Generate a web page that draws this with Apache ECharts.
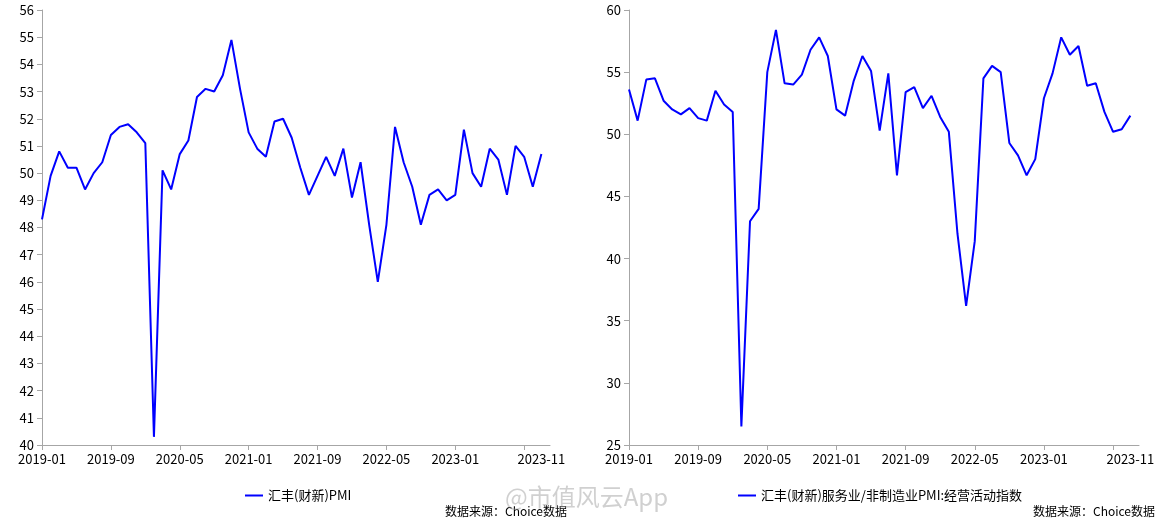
<!DOCTYPE html>
<html><head><meta charset="utf-8">
<script src="https://cdn.jsdelivr.net/npm/echarts@6/dist/echarts.min.js"></script>
<style>html,body{margin:0;background:#fff}#c{width:1175px;height:532px}</style>
</head><body><div id="c"></div>
<script>
const months = [];
for (let y = 2019; y <= 2023; y++) for (let m = 1; m <= 12; m++) { if (y === 2023 && m === 12) break; months.push(y + '-' + String(m).padStart(2, '0')); }
const categories = months.concat(['']);
const pmi = [48.3,49.9,50.8,50.2,50.2,49.4,50.0,50.4,51.4,51.7,51.8,51.5,51.1,40.3,50.1,49.4,50.7,51.2,52.8,53.1,53.0,53.6,54.9,53.1,51.5,50.9,50.6,51.9,52.0,51.3,50.2,49.2,49.9,50.6,49.9,50.9,49.1,50.4,48.1,46.0,48.1,51.7,50.4,49.5,48.1,49.2,49.4,49.0,49.2,51.6,50.0,49.5,50.9,50.5,49.2,51.0,50.6,49.5,50.7];
const services = [53.6,51.1,54.4,54.5,52.7,52.0,51.6,52.1,51.3,51.1,53.5,52.4,51.8,26.5,43.0,44.0,55.0,58.4,54.1,54.0,54.8,56.8,57.8,56.3,52.0,51.5,54.3,56.3,55.1,50.3,54.9,46.7,53.4,53.8,52.1,53.1,51.4,50.2,42.0,36.2,41.4,54.5,55.5,55.0,49.3,48.3,46.7,48.0,52.9,54.9,57.8,56.4,57.1,53.9,54.1,51.8,50.2,50.4,51.5];
const leftTicks = {min: 40, max: 56, interval: 1};
const rightTicks = {min: 25, max: 60, interval: 5};
const nameL = '汇丰(财新)PMI';
const nameR = '汇丰(财新)服务业/非制造业PMI:经营活动指数';
const source = '数据来源：Choice数据';

const txt = {color:'#000', fontSize:13, fontFamily:'"Noto Sans CJK SC", "Open Sans", sans-serif'};
const axisLine = {lineStyle:{color:'#a6a6a6'}};
function xAx(gi){return {type:'category', gridIndex:gi, data:categories, boundaryGap:false,
  axisLine, axisTick:{interval:(i)=>i%8===0, length:5, lineStyle:{color:'#a6a6a6'}},
  axisLabel:Object.assign({interval:(i)=>(i%8===0&&i<56)||i===58, margin:8}, txt)};}
function yAx(gi,t){return Object.assign({type:'value', gridIndex:gi, splitLine:{show:false},
  axisLine:Object.assign({show:true},axisLine), axisTick:{show:true,length:5,lineStyle:{color:'#a6a6a6'}},
  axisLabel:Object.assign({margin:8},txt)}, t);}
const chart = echarts.init(document.getElementById('c'));
chart.setOption({
  animation:false,
  grid:[{left:42, top:10, width:508, height:435},{left:629, top:10, width:510, height:435}],
  xAxis:[xAx(0), xAx(1)],
  yAxis:[yAx(0,leftTicks), yAx(1,rightTicks)],
  legend:[
    {data:[nameL], left:240, top:484, itemWidth:18, itemHeight:2, textStyle:txt, icon:'rect'},
    {data:[nameR], left:733, top:484, itemWidth:18, itemHeight:2, textStyle:txt, icon:'rect'}],
  series:[
    {name:nameL, type:'line', xAxisIndex:0, yAxisIndex:0, data:pmi, showSymbol:false, lineStyle:{color:'#0000ff', width:2}, itemStyle:{color:'#0000ff'}},
    {name:nameR, type:'line', xAxisIndex:1, yAxisIndex:1, data:services, showSymbol:false, lineStyle:{color:'#0000ff', width:2}, itemStyle:{color:'#0000ff'}}],
  graphic:[
    {type:'text', left:445, top:505, style:{text:source, fill:'#000', font:'12px "Noto Sans CJK SC"'}},
    {type:'text', left:1033, top:505, style:{text:source, fill:'#000', font:'12px "Noto Sans CJK SC"'}},
    {type:'text', left:505, top:485, style:{text:'@市值风云App', fill:'rgba(150,150,150,0.45)', font:'24px "Noto Sans CJK SC"'}}]
});
</script></body></html>
